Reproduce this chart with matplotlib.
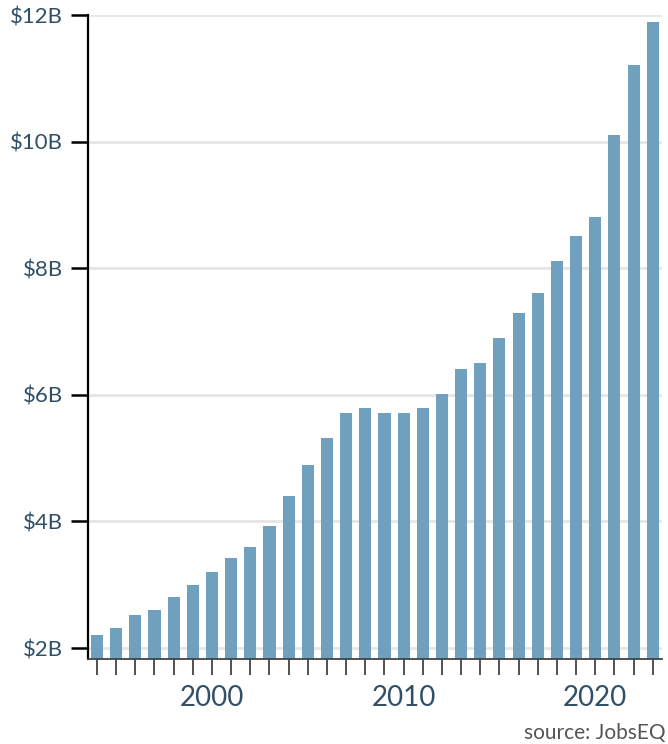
import matplotlib
matplotlib.use("Agg")
import matplotlib.pyplot as plt
from matplotlib.ticker import FixedLocator, NullFormatter

plt.rcParams['font.family'] = ['Lato', 'DejaVu Sans']

# values (billions of dollars)
years = list(range(1994, 2024))
values = [2.21, 2.32, 2.52, 2.60, 2.81, 3.00, 3.20, 3.42, 3.60, 3.93,
          4.40, 4.89, 5.32, 5.71, 5.79, 5.71, 5.71, 5.79, 6.01, 6.41,
          6.50, 6.90, 7.29, 7.61, 8.11, 8.51, 8.81, 10.10, 11.21, 11.89]
y_ticks = [2, 4, 6, 8, 10, 12]
y_labels = ["$2B", "$4B", "$6B", "$8B", "$10B", "$12B"]
x_label_years = [2000, 2010, 2020]

BAR_COLOR = "#6fa0bd"
TEXT_COLOR = "#2f5068"

fig = plt.figure(figsize=(6.68, 7.44), dpi=100)
ax = fig.add_axes([0.1317, 0.1142, 0.859, 0.8656])

ax.bar(years, values, width=0.63, color=BAR_COLOR, zorder=2)

ax.set_xlim(1993.53, 2023.47)
ax.set_ylim(1.826, 12)

ax.set_yticks(y_ticks)
ax.set_yticklabels(y_labels)
ax.yaxis.grid(True, color="#e6e6e6", linewidth=2, zorder=0)
ax.set_axisbelow(True)

ax.xaxis.set_major_locator(FixedLocator(x_label_years))
ax.xaxis.set_minor_locator(FixedLocator([y for y in years if y not in x_label_years]))
ax.xaxis.set_minor_formatter(NullFormatter())
ax.set_xticklabels([str(y) for y in x_label_years])

for side in ["top", "right"]:
    ax.spines[side].set_visible(False)
ax.spines["left"].set_color("black")
ax.spines["left"].set_linewidth(1.6)
ax.spines["bottom"].set_color("#444444")
ax.spines["bottom"].set_linewidth(1.3)
ax.spines["left"].set_bounds(1.826, 12)

ax.tick_params(axis="y", length=12, width=1.8, color="black", pad=6,
               labelsize=16, labelcolor=TEXT_COLOR)
ax.tick_params(axis="x", which="both", length=11.5, width=1.3, color="#444444",
               pad=7, labelsize=20, labelcolor=TEXT_COLOR)

fig.text(0.997, 0.002, "source: JobsEQ", ha="right", va="bottom",
         fontsize=15, color="#555555")

fig.savefig("out.png", dpi=100)
